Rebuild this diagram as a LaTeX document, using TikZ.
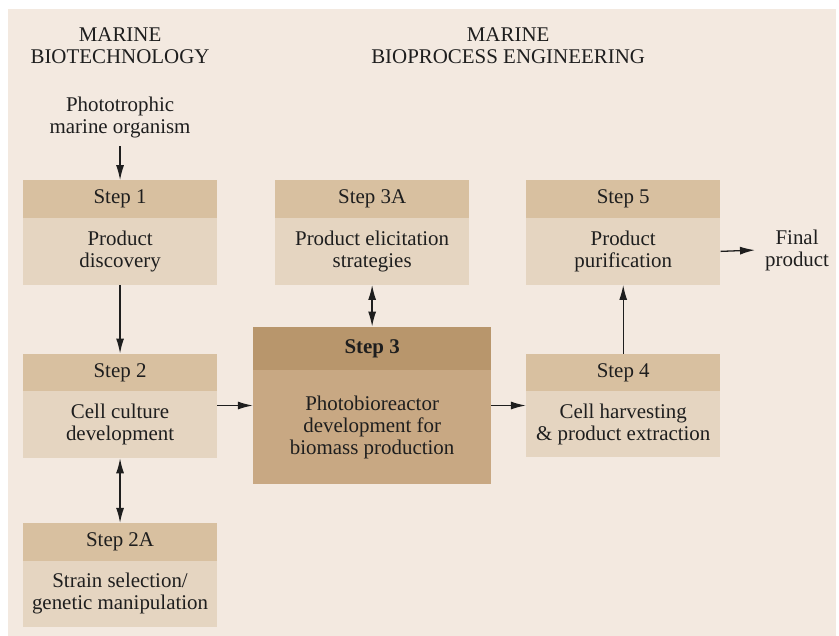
\documentclass[tikz,border=0pt]{standalone}
\usepackage{fontspec}
\setmainfont{Liberation Serif}
\usetikzlibrary{arrows.meta, positioning}
\definecolor{panel}{HTML}{F3E9E0}
\definecolor{headfill}{HTML}{D8C0A0}
\definecolor{bodyfill}{HTML}{E5D5C1}
\definecolor{mainhead}{HTML}{B8966C}
\definecolor{mainbody}{HTML}{C8A883}
\definecolor{ink}{HTML}{1E1E1E}
\tikzstyle{every picture} = [x=1pt, y=-1pt, font=\fontsize{21}{22}\selectfont, text=ink]
\tikzstyle{head} = [fill=headfill, minimum width=195pt, minimum height=38pt, inner sep=0pt]
\tikzstyle{body} = [fill=bodyfill, minimum width=195pt, minimum height=67pt, inner sep=0pt, align=center, below=-0.6pt of #1]
\tikzstyle{label text} = [align=center, inner sep=0pt]
\tikzstyle{flow} = [draw=ink, line width=1.3pt, -{Latex[length=15pt, width=8pt]}]
\tikzstyle{both ways} = [draw=ink, line width=1.3pt, {Latex[length=15pt, width=8pt]}-{Latex[length=15pt, width=8pt]}]

\begin{document}
\begin{tikzpicture}
            % page and tinted panel
            \fill[white] (0,0) rectangle (839,638);
            \fill[panel] (8,9) rectangle (839,638);

            \node (title bio) [label text] at (120.5,46) {MARINE\\BIOTECHNOLOGY};
            \node (title eng) [label text] at (510,46) {MARINE\\BIOPROCESS ENGINEERING};
            \node (organism) [label text, inner ysep=8pt] at (120.5,118) {Phototrophic\\marine organism};

            % top row
            \node (step 1) [head] at (120.5,200) {Step 1};
            \node (step 1 body) [body=step 1] {Product\\discovery};
            \node (step 3A) [head] at (373.5,200) {Step 3A};
            \node (step 3A body) [body=step 3A] {Product elicitation\\strategies};
            \node (step 5) [head] at (625.5,200) {Step 5};
            \node (step 5 body) [body=step 5] {Product\\purification};
            \node (final) [label text, inner xsep=10pt] at (800,251) {Final\\product};

            % middle row
            \node (step 2) [head] at (120.5,374) {Step 2};
            \node (step 2 body) [body=step 2] {Cell culture\\development};
            \node (step 3) [head, fill=mainhead, minimum width=239pt, minimum height=44pt] at (373.5,350) {\bfseries Step 3};
            \node (step 3 body) [body=step 3, fill=mainbody, minimum width=239pt, minimum height=114pt] {Photobioreactor\\development for\\biomass production};
            \coordinate (step 3 mid) at (373.5,407);
            \node (step 4) [head] at (625.5,374) {Step 4};
            \node (step 4 body) [body=step 4, minimum height=66pt] {Cell harvesting\\\& product extraction};

            % bottom row
            \node (step 2A) [head] at (120.5,544) {Step 2A};
            \node (step 2A body) [body=step 2A, minimum height=66pt] {Strain selection/\\genetic manipulation};

            \path (organism.south) edge[flow] (step 1.north)
                  (step 1 body.south) edge[flow] (step 2.north)
                  (step 2 body.south) edge[both ways] (step 2A.north)
                  (step 3A body.south) edge[both ways] (step 3.north)
                  (step 2 body.east |- step 3 mid) edge[flow] (step 3 body.west |- step 3 mid)
                  (step 3 body.east |- step 3 mid) edge[flow] (step 4 body.west |- step 3 mid)
                  (step 4.north) edge[flow] (step 5 body.south)
                  (step 5 body.east) edge[flow] (final.west);
        \end{tikzpicture}
\end{document}
